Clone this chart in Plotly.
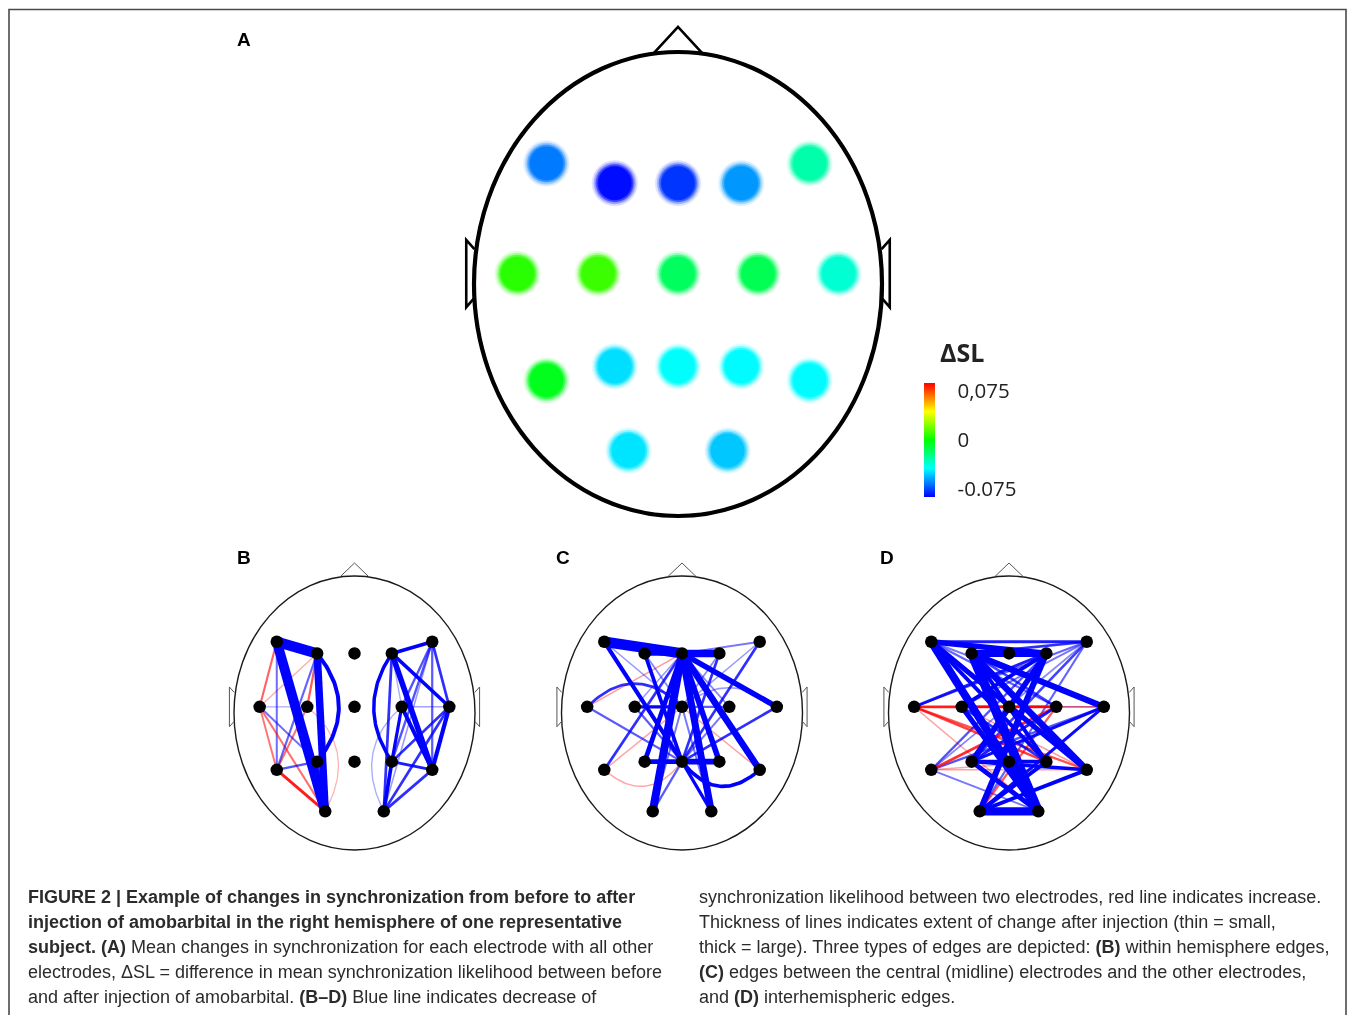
import numpy as np
import plotly.graph_objects as go

W, H = 1355, 1015
OFF = 8  # browser body margin

# ---------------- data ----------------
electrodes = ["F7", "F3", "Fz", "F4", "F8",
              "T3", "C3", "Cz", "C4", "T4",
              "T5", "P3", "Pz", "P4", "T6",
              "O1", "O2"]
elec_x = [-0.645, -0.31, 0.0, 0.31, 0.645,
          -0.787, -0.392, 0.0, 0.392, 0.787,
          -0.645, -0.31, 0.0, 0.31, 0.645,
          -0.243, 0.243]
elec_y = [0.52, 0.435, 0.435, 0.435, 0.52,
          0.045, 0.045, 0.045, 0.045, 0.045,
          -0.415, -0.355, -0.355, -0.355, -0.415,
          -0.718, -0.718]
# Panel A: mean change in synchronization likelihood per electrode
delta_sl = [-0.066, -0.085, -0.078, -0.061, -0.029,
            0.007, 0.010, -0.016, -0.014, -0.036,
            -0.005, -0.049, -0.043, -0.044, -0.044,
            -0.048, -0.053]
cbar_ticks = [-0.075, 0.0, 0.075]
cbar_ticktext = ["-0.075", "0", "0,075"]

# Panel B: within-hemisphere edges (negative = decrease, positive = increase)
b_src = ["F7", "F7", "F3", "F3", "F7", "F7", "F3", "F3", "F3", "C3", "T3", "T3", "T3", "T3",
         "T5", "T5", "C3", "P3",
         "F4", "F4", "F4", "F4", "F4", "F4", "F8", "F8", "F8", "F8", "F8", "C4", "C4", "C4",
         "C4", "T4", "T4", "T4", "P4", "P4", "T6"]
b_dst = ["F3", "O1", "O1", "P3", "T3", "T5", "T3", "C3", "T5", "T5", "C3", "P3", "T5", "O1",
         "O1", "P3", "O1", "O1",
         "F8", "P4", "T6", "T4", "C4", "O2", "T6", "P4", "C4", "O2", "T4", "T4", "T6", "P4",
         "O2", "T6", "P4", "O2", "T6", "O2", "O2"]
b_val = [-1.0, -0.95, -0.7, -0.33, 0.14, -0.13, 0.06, 0.15, -0.14, 0.13, -0.06, -0.13, 0.12, 0.13,
         0.22, -0.16, 0.05, -0.2,
         -0.3, -0.28, -0.5, -0.28, -0.06, -0.2, -0.15, -0.16, -0.16, -0.08, -0.2, -0.07, -0.33, -0.25,
         -0.06, -0.35, -0.2, -0.2, -0.22, -0.3, -0.2]
b_arcs = {("F3", "P3"): 0.18, ("C3", "O1"): 0.18, ("F4", "P4"): -0.15, ("C4", "O2"): -0.17}

# Panel C: edges between midline electrodes and the others
c_src = ["F7", "Fz", "F3", "Fz", "Fz", "Fz", "Fz", "Fz", "Fz", "Fz", "Fz", "Fz", "Fz", "Fz",
         "Cz", "Cz", "T3", "Cz", "Cz", "Cz", "Cz", "Cz", "Cz", "Cz", "Cz", "Cz",
         "Pz", "Pz", "Pz", "Pz", "Pz", "Pz", "Pz", "Pz", "T5", "Pz", "Pz", "Pz", "Pz", "Pz"]
c_dst = ["Fz", "F4", "Fz", "F8", "T3", "C3", "T5", "P3", "O1", "O2", "P4", "T6", "T4", "C4",
         "C3", "C4", "Cz", "T4", "F7", "F8", "T6", "T5", "F3", "F4", "O1", "O2",
         "P3", "P4", "F7", "F3", "F4", "F8", "T3", "T4", "Pz", "T6", "O1", "O2", "C3", "C4"]
c_val = [-1.0, -0.7, -0.4, -0.12, 0.08, -0.08, -0.2, -0.4, -0.75, -0.65, -0.5, -0.6, -0.5, -0.1,
         -0.25, -0.15, -0.2, -0.08, -0.08, -0.08, 0.07, 0.07, -0.1, -0.1, -0.12, -0.12,
         -0.4, -0.5, -0.35, -0.3, -0.2, -0.2, -0.15, -0.2, 0.07, -0.3, -0.15, -0.25, -0.15, -0.12]
c_arcs = {("T3", "Cz"): 0.17, ("Cz", "T4"): 0.14, ("T5", "Pz"): -0.15, ("Pz", "T6"): -0.15}

# Panel D: interhemispheric edges
d_src = ["F7"] * 7 + ["F3"] * 7 + ["T3"] * 7 + ["C3"] * 7 + ["T5"] * 7 + ["P3"] * 7 + ["O1"] * 7
d_dst = ["F8", "F4", "C4", "T4", "P4", "T6", "O2"] * 7
d_val = [-0.22, -0.5, -0.14, -0.12, -0.32, -0.45, -0.75,
         -0.2, -0.65, -0.18, -0.55, -0.32, -0.6, -0.9,
         -0.14, -0.22, 0.2, 0.1, 0.18, 0.16, 0.07,
         -0.12, -0.32, 0.18, -0.08, -0.2, 0.08, -0.45,
         -0.1, -0.16, 0.2, -0.16, 0.07, 0.07, -0.12,
         -0.18, -0.5, -0.22, -0.24, -0.32, -0.28, -0.4,
         -0.14, -0.55, 0.15, -0.24, -0.32, -0.32, -0.8]
d_arcs = {}

caption_left = [
    "<b>FIGURE 2 | Example of changes in synchronization from before to after</b>",
    "<b>injection of amobarbital in the right hemisphere of one representative</b>",
    "<b>subject. (A)</b> Mean changes in synchronization for each electrode with all other",
    "electrodes, \u0394SL = difference in mean synchronization likelihood between before",
    "and after injection of amobarbital. <b>(B\u2013D)</b> Blue line indicates decrease of",
]
caption_right = [
    "synchronization likelihood between two electrodes, red line indicates increase.",
    "Thickness of lines indicates extent of change after injection (thin = small,",
    "thick = large). Three types of edges are depicted: <b>(B)</b> within hemisphere edges,",
    "<b>(C)</b> edges between the central (midline) electrodes and the other electrodes,",
    "and <b>(D)</b> interhemispheric edges.",
]


# ---------------- layout helpers ----------------
def PX(x):
    return (x - OFF) / W


def PY(y):
    return 1 - (y - OFF) / H


pos = {e: np.array([x, y]) for e, x, y in zip(electrodes, elec_x, elec_y)}
fig = go.Figure()
layout = {}
shapes = []
annotations = []


def ax_names(idx):
    return ("x", "y") if idx == 1 else (f"x{idx}", f"y{idx}")


def panel_axes(idx, cx, cy, sx, sy, xr=1.2, yr=1.16):
    xn = "xaxis" if idx == 1 else f"xaxis{idx}"
    yn = "yaxis" if idx == 1 else f"yaxis{idx}"
    xa, ya = ax_names(idx)
    layout[xn] = dict(domain=[PX(cx - xr * sx), PX(cx + xr * sx)], range=[-xr, xr],
                      visible=False, fixedrange=True, anchor=ya)
    layout[yn] = dict(domain=[PY(cy + yr * sy), PY(cy - yr * sy)], range=[-yr, yr],
                      visible=False, fixedrange=True, anchor=xa)


def head(idx, lw, nose_w, col, nose_col, nose_top):
    xa, ya = ax_names(idx)
    shapes.append(dict(type="circle", xref=xa, yref=ya, x0=-1, x1=1, y0=-1, y1=1,
                       line=dict(color=col, width=lw), layer="below"))
    shapes.append(dict(type="path", xref=xa, yref=ya,
                       path=f"M -0.122 0.992 L 0 {nose_top} L 0.122 0.992",
                       line=dict(color=nose_col, width=nose_w), layer="below"))
    for s in (-1, 1):
        shapes.append(dict(type="path", xref=xa, yref=ya,
                           path=f"M {s*0.998} 0.15 L {s*1.038} 0.19 L {s*1.038} -0.10 L {s*0.998} -0.06",
                           line=dict(color=nose_col, width=nose_w), layer="below"))


def edge_traces(idx, src, dst, val, arcs):
    xa, ya = ax_names(idx)
    order = sorted(range(len(val)), key=lambda i: abs(val[i]))
    for i in order:
        p0, p1 = pos[src[i]], pos[dst[i]]
        bend = arcs.get((src[i], dst[i]), 0.0)
        if bend:
            t = np.linspace(0, 1, 50)[:, None]
            d = p1 - p0
            n = np.array([-d[1], d[0]]) / np.linalg.norm(d)
            c = (p0 + p1) / 2 + 2 * bend * n
            pts = (1 - t) ** 2 * p0 + 2 * (1 - t) * t * c + t ** 2 * p1
        else:
            pts = np.vstack([p0, p1])
        v = val[i]
        m = abs(v)
        rgb = "0,0,255" if v < 0 else "255,0,0"
        alpha = min(1.0, 0.12 + 3.5 * m)
        fig.add_trace(go.Scatter(x=pts[:, 0], y=pts[:, 1], mode="lines",
                                 line=dict(color=f"rgba({rgb},{alpha:.2f})", width=0.8 + 9.6 * m),
                                 hoverinfo="skip", showlegend=False, xaxis=xa, yaxis=ya))
    fig.add_trace(go.Scatter(x=elec_x, y=elec_y, mode="markers", text=electrodes,
                             marker=dict(color="black", size=12.5, line=dict(width=0)),
                             hoverinfo="text", showlegend=False, xaxis=xa, yaxis=ya))


# ---------------- panel A ----------------
panel_axes(1, 678, 284, 204, 232)
head(1, 4.2, 2.6, "black", "black", 1.108)
colorscale = [[0, "rgb(0,0,255)"], [0.25, "rgb(0,255,255)"], [0.5, "rgb(0,255,0)"],
              [0.75, "rgb(255,255,0)"], [1, "rgb(255,0,0)"]]
for size, op in [(46, 0.14), (42, 0.3), (38, 0.6)]:
    fig.add_trace(go.Scatter(x=elec_x, y=elec_y, mode="markers", opacity=op,
                             marker=dict(color=delta_sl, colorscale=colorscale, cmin=-0.087, cmax=0.087,
                                         size=size, line=dict(width=0)),
                             hoverinfo="skip", showlegend=False, xaxis="x", yaxis="y"))
fig.add_trace(go.Scatter(
    x=elec_x, y=elec_y, mode="markers", text=electrodes, customdata=delta_sl,
    hovertemplate="%{text}: %{customdata}<extra></extra>", showlegend=False, xaxis="x", yaxis="y",
    marker=dict(color=delta_sl, colorscale=colorscale, cmin=-0.087, cmax=0.087, size=34,
                line=dict(width=0), showscale=True,
                colorbar=dict(x=PX(924), xanchor="left", xpad=0, y=PY(440), yanchor="middle",
                              ypad=0, len=114, lenmode="pixels", thickness=11, thicknessmode="pixels",
                              outlinewidth=0, tickvals=cbar_ticks, ticktext=cbar_ticktext,
                              ticks="outside", ticklen=19, tickcolor="rgba(0,0,0,0)",
                              tickfont=dict(family="Open Sans", size=20.5, color="#222")))))
annotations.append(dict(x=PX(962), y=PY(352), xref="paper", yref="paper", showarrow=False,
                        xanchor="center", yanchor="middle",
                        text="<b>\u0394SL</b>", font=dict(family="Open Sans", size=25, color="#222")))

# ---------------- panels B, C, D ----------------
for idx, cx, src, dst, val, arcs in [(2, 354.5, b_src, b_dst, b_val, b_arcs),
                                     (3, 682, c_src, c_dst, c_val, c_arcs),
                                     (4, 1009, d_src, d_dst, d_val, d_arcs)]:
    panel_axes(idx, cx, 713, 120.5, 137)
    head(idx, 1.4, 1.0, "#1a1a1a", "#555", 1.095)
    edge_traces(idx, src, dst, val, arcs)

# ---------------- labels, caption, frame ----------------
for lab, x, y in [("A", 244, 39), ("B", 244, 557), ("C", 563, 557), ("D", 887, 557)]:
    annotations.append(dict(x=PX(x), y=PY(y), xref="paper", yref="paper", showarrow=False,
                            text=f"<b>{lab}</b>", xanchor="center", yanchor="middle",
                            font=dict(family="Liberation Sans", size=19, color="black")))

for col_x, lines in [(26, caption_left), (697, caption_right)]:
    for k, line in enumerate(lines):
        annotations.append(dict(x=PX(col_x), y=PY(897 + 25 * k), xref="paper", yref="paper",
                                showarrow=False, text=line, xanchor="left", yanchor="middle",
                                align="left", font=dict(family="Liberation Sans", size=18, color="#2b2b2b")))

shapes.append(dict(type="path", xref="paper", yref="paper", layer="above",
                   path=f"M {PX(9)} -0.05 L {PX(9)} {PY(9.5)} L {PX(1346)} {PY(9.5)} L {PX(1346)} -0.05",
                   line=dict(color="#4a4a4a", width=1.6)))

fig.update_layout(width=W, height=H, margin=dict(l=0, r=0, t=0, b=0),
                  paper_bgcolor="white", plot_bgcolor="white", showlegend=False,
                  shapes=shapes, annotations=annotations, **layout)
fig.write_html("out.html")
